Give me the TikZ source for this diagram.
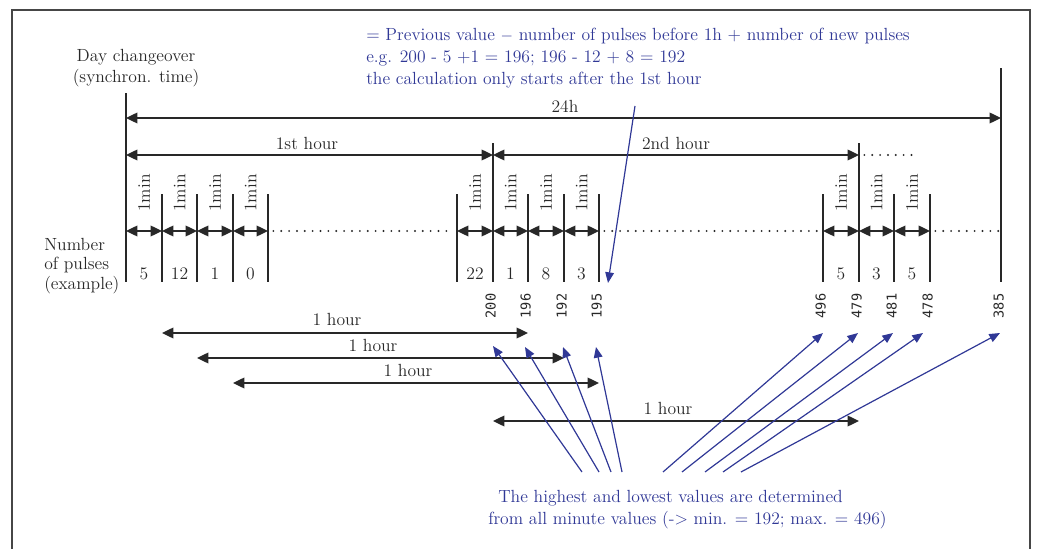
\documentclass[tikz,border=0pt]{standalone}
\usepackage{fontspec}
\newfontfamily\numfont{DejaVu Sans Mono}
\usetikzlibrary{arrows.meta,calc}
\definecolor{ink}{RGB}{40,40,40}
\definecolor{bl}{RGB}{48,56,150}
\definecolor{framec}{RGB}{70,70,70}
\begin{document}
\begin{tikzpicture}[x=0.75pt,y=-0.75pt,
  tick/.style={draw=ink, line width=1.05pt},
  dim/.style={draw=ink, line width=1pt, {Triangle[length=8.5pt,width=8pt]}-{Triangle[length=8.5pt,width=8pt]}},
  dotline/.style={draw=ink, line width=1.6pt, line cap=round, dash pattern=on 0pt off 5.9pt},
  lbl/.style={text=ink, font=\fontsize{13.2}{15.5}\selectfont, inner sep=0pt},
  rlbl/.style={lbl, rotate=90},
  val/.style={text=ink, font=\numfont\fontsize{10.2}{12}\selectfont, rotate=90, inner sep=0pt},
  barrow/.style={draw=bl, line width=0.9pt, -{Triangle[length=8pt,width=6.5pt]}},
  btext/.style={text=bl, font=\fontsize{13.2}{16.4}\selectfont, align=left, inner sep=0pt, anchor=north west}
]
\useasboundingbox (0,0) rectangle (1040,549);
% frame
\draw[framec, line width=1.4pt] (12,600) -- (12,10) -- (1030,10) -- (1030,600);

% rows
\coordinate (r24) at (0,118);
\coordinate (rhr) at (0,155);
\coordinate (rmin) at (0,231);

% tick lines (name, x, top)
\foreach \n/\x/\t in {t0/126/93, t1/162/194, t2/197/194, t3/233/194, t4/268/194,
                      u0/457/194, u1/493/143, u2/528/194, u3/564/194, u4/599/194,
                      v0/823/194, v1/859/143, v2/894/194, v3/930/194, w/1001/68}{
  \coordinate (\n) at (\x,282);
  \coordinate (\n top) at (\x,\t);
  \draw[tick] (\n) -- (\n top);
}

% 24h and hour arrows
\draw[dim] (t0 |- r24) -- (w |- r24);
\node[lbl] (l24) at (565,106) {24h};
\draw[dim] (t0 |- rhr) -- (u1 |- rhr);
\node[lbl] (l1st) at (307,143) {1st hour};
\draw[dim] (u1 |- rhr) -- (v1 |- rhr);
\node[lbl] (l2nd) at (676,143) {2nd hour};
\coordinate (hdotend) at (913,155);
\draw[dotline] ([xshift=4pt]v1 |- rhr) -- (hdotend);

% minute arrows
\foreach \a/\b in {t0/t1, t1/t2, t2/t3, t3/t4, u0/u1, u1/u2, u2/u3, u3/u4, v0/v1, v1/v2, v2/v3}{
  \draw[dim] (\a |- rmin) -- (\b |- rmin);
  \node[rlbl] (m\a) at ($(\a |- 0,193)!0.5!(\b |- 0,193)$) {1min};
}
\draw[dotline] ([xshift=4pt]t4 |- rmin) -- ([xshift=-4pt]u0 |- rmin);
\draw[dotline] ([xshift=4pt]u4 |- rmin) -- ([xshift=-4pt]v0 |- rmin);
\draw[dotline] ([xshift=4pt]v3 |- rmin) -- ([xshift=-1pt]w |- rmin);

% pulse counts
\foreach \a/\b/\v in {t0/t1/5, t1/t2/12, t2/t3/1, t3/t4/0, u0/u1/22, u1/u2/1, u2/u3/8, u3/u4/3, v0/v1/5, v1/v2/3, v2/v3/5}{
  \node[lbl] (c\a) at ($(\a |- 0,274)!0.5!(\b |- 0,274)$) {\v};
}

% left labels
\node[lbl, align=center] (day) at (136,68) {Day changeover\\(synchron. time)};
\node[lbl, align=left, anchor=west, font=\fontsize{13.2}{14.8}\selectfont] (num) at (44,266) {Number\\of pulses\\(example)};

% values
\foreach \n/\v in {u1/200, u2/196, u3/192, u4/195, v0/496, v1/479, v2/481, v3/478, w/385}{
  \node[val] (val\n) at ([xshift=-1.8pt]\n |- 0,306) {\v};
}

% 1 hour arrows
\coordinate (h1) at (0,333);
\coordinate (h2) at (0,358);
\coordinate (h3) at (0,383);
\coordinate (h4) at (0,421);
\draw[dim] (t1 |- h1) -- (u2 |- h1);
\node[lbl] (oh1) at (337,319) {1 hour};
\draw[dim] (t2 |- h2) -- (u3 |- h2);
\node[lbl] (oh2) at (373,345) {1 hour};
\draw[dim] (t3 |- h3) -- (u4 |- h3);
\node[lbl] (oh3) at (408,370) {1 hour};
\draw[dim] (u1 |- h4) -- (v1 |- h4);
\node[lbl] (oh4) at (668,408) {1 hour};

% top blue text and arrow
\node[btext] (formula) at (366,28) {= Previous value $-$ number of pulses before 1h + number of new pulses\\
e.g. 200 - 5 +1 = 196; 196 - 12 + 8 = 192\\
the calculation only starts after the 1st hour};
\coordinate (fstart) at (635,106);
\coordinate (fend) at (608,283);
\draw[barrow] (fstart) -- (fend);

% bottom blue text and arrows
\node[btext] (note) at (488,490) {\hspace*{7.5pt}The highest and lowest values are determined\\
from all minute values (-> min. = 192; max. = 496)};
\foreach \sx/\ex/\ey in {582/493/346, 599/525/347, 611/563/347, 622/596/347,
                         663/823/333, 682/858/333, 705/893/333, 723/923/333, 741/1000/333}{
  \coordinate (s\sx) at (\sx,472);
  \coordinate (e\sx) at (\ex,\ey);
  \draw[barrow] (s\sx) -- (e\sx);
}
\end{tikzpicture}
\end{document}
